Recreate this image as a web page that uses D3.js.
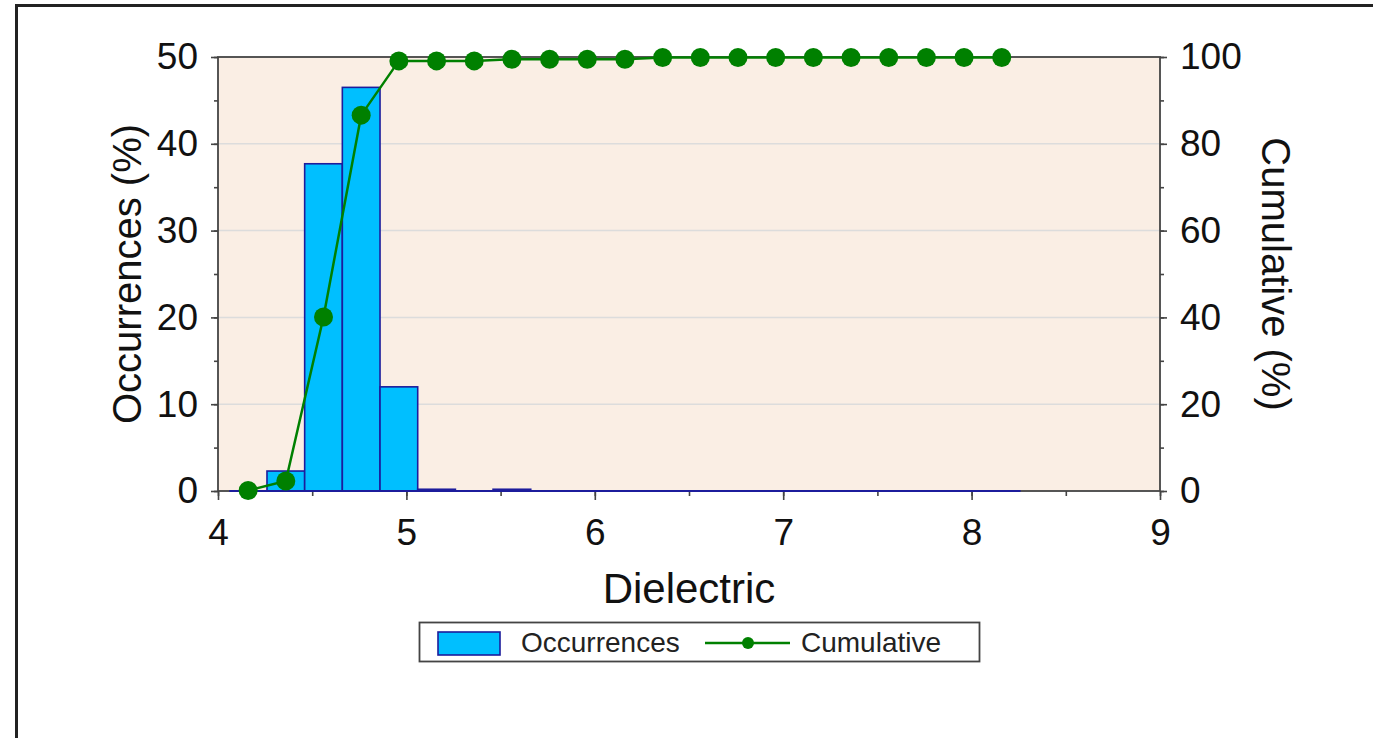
<!DOCTYPE html>
<html>
<head>
<meta charset="utf-8">
<script src="https://cdn.jsdelivr.net/npm/d3@7"></script>
<style>
  body { margin: 0; background: #fff; }
  svg { display: block; font-family: "Liberation Sans", Arial, sans-serif; }
</style>
</head>
<body>
<svg id="chart" width="1373" height="738" viewBox="0 0 1373 738"></svg>
<script>
// bin centres of the dielectric histogram
const binCenters = [4.16, 4.36, 4.56, 4.76, 4.96, 5.16, 5.36, 5.56, 5.76, 5.96, 6.16,
    6.36, 6.56, 6.76, 6.96, 7.16, 7.36, 7.56, 7.76, 7.96, 8.16];
const occurrences = [0, 2.3, 37.7, 46.5, 12.0, 0.2, 0, 0.2, 0, 0, 0,
    0, 0, 0, 0, 0, 0, 0, 0, 0, 0];
const cumulative = [0.1, 2.3, 40.1, 86.6, 99.1, 99.1, 99.1, 99.5, 99.5, 99.5, 99.5,
    99.9, 99.9, 99.9, 99.9, 99.9, 99.9, 99.9, 99.9, 99.9, 99.9];
const binWidth = 0.2;
const xTicks = [4, 5, 6, 7, 8, 9];
const yLeftTicks = [0, 10, 20, 30, 40, 50];
const yRightTicks = [0, 20, 40, 60, 80, 100];

const svg = d3.select("#chart");
const plot = { left: 218, right: 1160, top: 57, bottom: 491 };

const x = d3.scaleLinear().domain([4, 9]).range([plot.left, plot.right]);
const yL = d3.scaleLinear().domain([0, 50]).range([plot.bottom, plot.top]);
const yR = d3.scaleLinear().domain([0, 100]).range([plot.bottom, plot.top]);

// outer frame (only top and left edges are visible)
svg.append("line").attr("x1", 15).attr("x2", 1373).attr("y1", 5.5).attr("y2", 5.5)
    .attr("stroke", "#222").attr("stroke-width", 3);
svg.append("line").attr("x1", 16.5).attr("x2", 16.5).attr("y1", 4).attr("y2", 738)
    .attr("stroke", "#222").attr("stroke-width", 3);

// plot background
svg.append("rect")
    .attr("x", plot.left).attr("y", plot.top)
    .attr("width", plot.right - plot.left).attr("height", plot.bottom - plot.top)
    .attr("fill", "#faeee4");

// gridlines
svg.append("g").selectAll("line")
    .data(yLeftTicks.slice(1, -1))
    .join("line")
    .attr("x1", plot.left).attr("x2", plot.right)
    .attr("y1", d => yL(d)).attr("y2", d => yL(d))
    .attr("stroke", "#dcdcdc").attr("stroke-width", 1.5);

// bars
svg.append("g").selectAll("rect")
    .data(binCenters.map((c, i) => ({ c, v: occurrences[i] })))
    .join("rect")
    .attr("x", d => x(d.c - binWidth / 2))
    .attr("width", d => x(d.c + binWidth / 2) - x(d.c - binWidth / 2))
    .attr("y", d => yL(d.v))
    .attr("height", d => yL(0) - yL(d.v))
    .attr("fill", "#00bfff")
    .attr("stroke", "#1c1c9c")
    .attr("stroke-width", 1.6);

// axes
const axisColor = "#444";
function styleAxis(g) {
    g.select(".domain").remove();
    g.selectAll(".tick line").attr("stroke", axisColor).attr("stroke-width", 1.6);
    g.selectAll(".tick text").attr("fill", "#111").style("font-size", "37px");
}

const xMinor = d3.range(4, 9.01, 0.5);
svg.append("g").attr("transform", `translate(0,${plot.bottom})`)
    .call(d3.axisBottom(x).tickValues(xMinor).tickSize(5).tickFormat(""))
    .call(styleAxis);
svg.append("g").attr("transform", `translate(0,${plot.bottom})`)
    .call(d3.axisBottom(x).tickValues(xTicks).tickSize(9).tickPadding(19).tickFormat(d3.format("d")))
    .call(styleAxis);

svg.append("g").attr("transform", `translate(${plot.left},0)`)
    .call(d3.axisLeft(yL).tickValues(d3.range(0, 50.1, 5)).tickSize(4).tickFormat(""))
    .call(styleAxis);
svg.append("g").attr("transform", `translate(${plot.left},0)`)
    .call(d3.axisLeft(yL).tickValues(yLeftTicks).tickSize(7).tickPadding(13))
    .call(styleAxis);

svg.append("g").attr("transform", `translate(${plot.right},0)`)
    .call(d3.axisRight(yR).tickValues(d3.range(0, 100.1, 10)).tickSize(4).tickFormat(""))
    .call(styleAxis);
svg.append("g").attr("transform", `translate(${plot.right},0)`)
    .call(d3.axisRight(yR).tickValues(yRightTicks).tickSize(7).tickPadding(13))
    .call(styleAxis);

// plot frame
svg.append("rect")
    .attr("x", plot.left).attr("y", plot.top)
    .attr("width", plot.right - plot.left).attr("height", plot.bottom - plot.top)
    .attr("fill", "none").attr("stroke", axisColor).attr("stroke-width", 1.8);

// redraw the blue bar outlines on the baseline over the frame
svg.append("line")
    .attr("x1", x(binCenters[0] - binWidth / 2)).attr("x2", x(binCenters[binCenters.length - 1] + binWidth / 2))
    .attr("y1", plot.bottom).attr("y2", plot.bottom)
    .attr("stroke", "#1c1c9c").attr("stroke-width", 1.8);

// cumulative line
const line = d3.line().x((d, i) => x(binCenters[i])).y(d => yR(d));
svg.append("path")
    .datum(cumulative)
    .attr("d", line)
    .attr("fill", "none")
    .attr("stroke", "#008000")
    .attr("stroke-width", 2.5);
svg.append("g").selectAll("circle")
    .data(cumulative)
    .join("circle")
    .attr("cx", (d, i) => x(binCenters[i]))
    .attr("cy", d => yR(d))
    .attr("r", 9.5)
    .attr("fill", "#008000");

// axis titles
svg.append("text")
    .attr("x", (plot.left + plot.right) / 2).attr("y", 603)
    .attr("text-anchor", "middle")
    .style("font-size", "42px").attr("fill", "#111")
    .text("Dielectric");
svg.append("text")
    .attr("transform", `translate(141,${(plot.top + plot.bottom) / 2}) rotate(-90)`)
    .attr("text-anchor", "middle")
    .style("font-size", "40px").attr("fill", "#111")
    .text("Occurrences (%)");
svg.append("text")
    .attr("transform", `translate(1262,${(plot.top + plot.bottom) / 2}) rotate(90)`)
    .attr("text-anchor", "middle")
    .style("font-size", "40px").attr("fill", "#111")
    .text("Cumulative (%)");

// legend
const legend = svg.append("g");
legend.append("rect")
    .attr("x", 419.5).attr("y", 622.5).attr("width", 560).attr("height", 39)
    .attr("fill", "#fff").attr("stroke", "#444").attr("stroke-width", 1.8);
legend.append("rect")
    .attr("x", 438).attr("y", 632).attr("width", 62).attr("height", 23)
    .attr("fill", "#00bfff").attr("stroke", "#1c1c9c").attr("stroke-width", 1.6);
legend.append("text")
    .attr("x", 521).attr("y", 652)
    .style("font-size", "28px").attr("fill", "#222")
    .text("Occurrences");
legend.append("line")
    .attr("x1", 705).attr("x2", 790).attr("y1", 643).attr("y2", 643)
    .attr("stroke", "#008000").attr("stroke-width", 2.5);
legend.append("circle")
    .attr("cx", 748).attr("cy", 643).attr("r", 6)
    .attr("fill", "#008000");
legend.append("text")
    .attr("x", 801).attr("y", 652)
    .style("font-size", "28px").attr("fill", "#222")
    .text("Cumulative");
</script>
</body>
</html>
